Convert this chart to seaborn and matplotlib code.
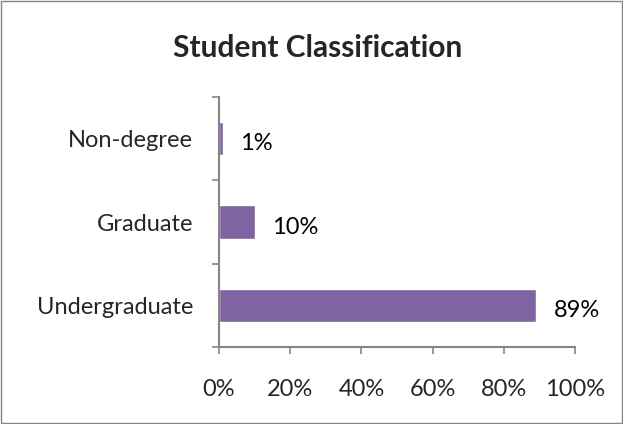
import matplotlib.pyplot as plt
import numpy as np
import pandas as pd
import seaborn as sns
from matplotlib.patches import Rectangle
from matplotlib.ticker import FixedLocator, PercentFormatter

categories = ['Non-degree', 'Graduate', 'Undergraduate']
shares = [1, 10, 89]
value_labels = ['1%', '10%', '89%']

df = pd.DataFrame({'category': categories, 'share': shares})

sns.set_theme(style='white')
plt.rcParams['font.family'] = ['Lato', 'DejaVu Sans']

fig = plt.figure(figsize=(6.23, 4.24), dpi=100)
ax = fig.add_axes([0.3515, 0.1816, 0.5714, 0.5896])

sns.barplot(data=df, y='category', x='share', order=categories,
            color='#8064A2', saturation=1, width=0.4, ax=ax)

ax.set_xlim(0, 100)
ax.set_ylim(2.5, -0.5)
ax.set_xticks(np.arange(0, 101, 20))
ax.xaxis.set_major_formatter(PercentFormatter(decimals=0))
ax.set_xlabel('')
ax.set_ylabel('')

# y ticks sit between categories, labels on the category centres
ax.yaxis.set_minor_locator(FixedLocator([-0.5, 0.5, 1.5, 2.5]))
ax.tick_params(axis='y', which='major', length=0, pad=18.5, labelsize=17)
ax.tick_params(axis='y', which='minor', left=True, length=5, width=1.2,
               color='#868686')
ax.tick_params(axis='x', which='major', bottom=True, length=5, width=1.2,
               color='#868686', pad=18, labelsize=17)

for side in ['top', 'right']:
    ax.spines[side].set_visible(False)
for side in ['left', 'bottom']:
    ax.spines[side].set_color('#868686')
    ax.spines[side].set_linewidth(1.5)

for i, (v, lab) in enumerate(zip(shares, value_labels)):
    ax.text(v + 5, i + 0.06, lab, va='center', ha='left', fontsize=17,
            color='black')

fig.text(0.51, 0.887, 'Student Classification', ha='center', va='center',
         fontsize=21.5, fontweight='bold')

fig.patches.append(Rectangle((0.002, 0.002), 0.996, 0.996,
                             transform=fig.transFigure, fill=False,
                             edgecolor='#868686', linewidth=1))

fig.savefig('out.png', dpi=100)
